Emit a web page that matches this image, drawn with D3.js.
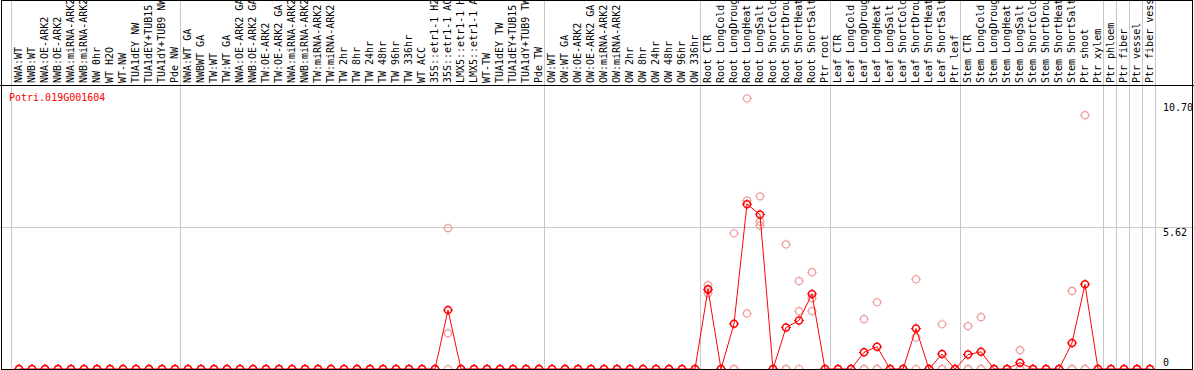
<!DOCTYPE html>
<html>
<head>
<meta charset="utf-8">
<script src="https://cdn.jsdelivr.net/npm/d3@7"></script>
<style>
  body { margin: 0; background: #fff; }
  svg { display: block; }
  text { font-family: "DejaVu Sans Mono", monospace; font-size: 10px; }
</style>
</head>
<body>
<script>
const geneName = "Potri.019G001604";

const samples = [
  "NWA:WT", "NWB:WT", "NWA:OE-ARK2", "NWB:OE-ARK2", "NWA:miRNA-ARK2", "NWB:miRNA-ARK2", "NW 0hr",
  "WT H2O", "WT-NW", "TUA1dEY NW", "TUA1dEY+TUB15 NW", "TUA1dY+TUB9 NW", "Pde NW",
  "NWA:WT GA", "NWBWT GA", "TW:WT", "TW:WT GA", "NWA:OE-ARK2 GA", "NWB:OE-ARK2 GA", "TW:OE-ARK2",
  "TW:OE-ARK2 GA", "NWA:miRNA-ARK2", "NWB:miRNA-ARK2", "TW:miRNA-ARK2", "TW:miRNA-ARK2",
  "TW 2hr", "TW 8hr", "TW 24hr", "TW 48hr", "TW 96hr", "TW 336hr", "WT ACC",
  "35S::etr1-1 H2O", "35S::etr1-1 ACC", "LMX5::etr1-1 H2O", "LMX5::etr1-1 ACC", "WT-TW",
  "TUA1dEY TW", "TUA1dEY+TUB15 TW", "TUA1dY+TUB9 TW", "Pde TW",
  "OW:WT", "OW:WT GA", "OW:OE-ARK2", "OW:OE-ARK2 GA", "OW:miRNA-ARK2", "OW:miRNA-ARK2",
  "OW 2hr", "OW 8hr", "OW 24hr", "OW 48hr", "OW 96hr", "OW 336hr",
  "Root CTR", "Root LongCold", "Root LongDrought", "Root LongHeat", "Root LongSalt",
  "Root ShortCold", "Root ShortDrought", "Root ShortHeat", "Root ShortSalt", "Ptr root",
  "Leaf CTR", "Leaf LongCold", "Leaf LongDrought", "Leaf LongHeat", "Leaf LongSalt",
  "Leaf ShortCold", "Leaf ShortDrought", "Leaf ShortHeat", "Leaf ShortSalt", "Ptr leaf",
  "Stem CTR", "Stem LongCold", "Stem LongDrought", "Stem LongHeat", "Stem LongSalt",
  "Stem ShortCold", "Stem ShortDrought", "Stem ShortHeat", "Stem ShortSalt", "Ptr shoot", "Ptr xylem",
  "Ptr phloem", "Ptr fiber", "Ptr vessel", "Ptr fiber vessel"
];

const groupSizes = [13, 28, 12, 10, 10, 11, 1, 1, 1, 1];

// mean expression (red line)
const meanValues = [
  0, 0, 0, 0, 0, 0, 0, 0, 0, 0, 0, 0, 0,
  0, 0, 0, 0, 0, 0, 0, 0, 0, 0, 0, 0, 0, 0, 0, 0, 0, 0, 0, 0, 2.33, 0, 0, 0, 0, 0, 0, 0,
  0, 0, 0, 0, 0, 0, 0, 0, 0, 0, 0, 0,
  3.15, 0, 1.79, 6.52, 6.11, 0, 1.64, 1.92, 2.97, 0,
  0, 0, 0.66, 0.88, 0, 0, 1.60, 0, 0.59, 0,
  0.57, 0.68, 0, 0, 0.25, 0, 0, 0, 1.03, 3.35, 0,
  0, 0, 0, 0
];

// replicates (pale circles)
const rep1 = [
  0, 0, 0, 0, 0, 0, 0, 0, 0, 0, 0, 0, 0,
  0, 0, 0, 0, 0, 0, 0, 0, 0, 0, 0, 0, 0, 0, 0, 0, 0, 0, 0, 0, 5.57, 0, 0, 0, 0, 0, 0, 0,
  0, 0, 0, 0, 0, 0, 0, 0, 0, 0, 0, 0,
  3.32, 0, 5.37, 10.70, 6.83, 0, 4.93, 3.48, 3.83, 0,
  0, 0, 1.97, 2.64, 0, 0, 3.55, 0, 1.77, 0,
  1.70, 2.05, 0, 0, 0.75, 0, 0, 0, 3.09, 10.04, 0,
  0, 0, 0, 0
];
const rep2 = [
  0, 0, 0, 0, 0, 0, 0, 0, 0, 0, 0, 0, 0,
  0, 0, 0, 0, 0, 0, 0, 0, 0, 0, 0, 0, 0, 0, 0, 0, 0, 0, 0, 0, 1.41, 0, 0, 0, 0, 0, 0, 0,
  0, 0, 0, 0, 0, 0, 0, 0, 0, 0, 0, 0,
  3.13, 0, 0, 6.66, 5.83, 0, 0, 2.29, 2.80, 0,
  0, 0, 0, 0, 0, 0, 1.25, 0, 0, 0,
  0, 0, 0, 0, 0, 0, 0, 0, 0, 0, 0,
  0, 0, 0, 0
];
const rep3 = [
  0, 0, 0, 0, 0, 0, 0, 0, 0, 0, 0, 0, 0,
  0, 0, 0, 0, 0, 0, 0, 0, 0, 0, 0, 0, 0, 0, 0, 0, 0, 0, 0, 0, 0, 0, 0, 0, 0, 0, 0, 0,
  0, 0, 0, 0, 0, 0, 0, 0, 0, 0, 0, 0,
  2.99, 0, 0, 2.20, 5.67, 0, 0, 0, 2.29, 0,
  0, 0, 0, 0, 0, 0, 0, 0, 0, 0,
  0, 0, 0, 0, 0, 0, 0, 0, 0, 0, 0,
  0, 0, 0, 0
];

const width = 1194;
const height = 370;
const labelBottom = 85;
const plotBottom = 369;
const plotLeft = 11;
const step = 13;
const red = "#ff0000";
const pale = "#f0a0a0";
const grey = "#c8c8c8";

const idx = d3.range(samples.length);

const xScale = d3.scaleBand()
  .domain(idx)
  .range([plotLeft, plotLeft + step * samples.length]);
const cx = i => xScale(i) + 8;

const yMax = d3.max([...rep1, ...rep2, ...rep3, ...meanValues]);
const yScale = d3.scaleLinear()
  .domain([0, yMax * 1.05])
  .range([plotBottom, labelBottom]);

const svg = d3.select("body").append("svg")
  .attr("width", width)
  .attr("height", height);

svg.append("clipPath")
    .attr("id", "labelClip")
  .append("rect")
    .attr("x", 0).attr("y", 1)
    .attr("width", width).attr("height", labelBottom - 1);

// group separators
const bounds = [0, ...d3.cumsum(groupSizes)];
const sepX = b => (b < samples.length ? xScale(b) : xScale(samples.length - 1) + step) + 0.5;
svg.append("g")
    .attr("stroke", grey)
  .selectAll("line")
  .data(bounds)
  .join("line")
    .attr("x1", sepX)
    .attr("x2", sepX)
    .attr("y1", 0)
    .attr("y2", height);

// middle grid line
const yMid = yScale.domain()[1] / 2;
const yMidPx = Math.round(yScale(yMid)) + 0.5;
svg.append("line")
  .attr("x1", 0).attr("x2", width)
  .attr("y1", yMidPx).attr("y2", yMidPx)
  .attr("stroke", grey);

// sample labels
svg.append("g")
    .attr("clip-path", "url(#labelClip)")
  .selectAll("text")
  .data(idx)
  .join("text")
    .attr("transform", i => `translate(${cx(i) + 3},83) rotate(-90)`)
    .attr("fill", "#000")
    .text(i => samples[i]);

// title
svg.append("text")
  .attr("x", 9)
  .attr("y", 101)
  .attr("fill", red)
  .text(geneName);

// y labels
const yTicks = [
  { v: yMax, dy: 12 },
  { v: yMid, dy: 9 },
  { v: 0, dy: -3 }
];
svg.append("g")
  .selectAll("text")
  .data(yTicks)
  .join("text")
    .attr("x", 1163)
    .attr("y", d => yScale(d.v) + d.dy)
    .attr("fill", "#000")
    .text(d => d.v === 0 ? "0" : d.v.toFixed(2));

function marker(g, color, sw) {
  g.append("circle")
    .attr("r", 3.5)
    .attr("fill", "none")
    .attr("stroke", color)
    .attr("stroke-width", sw);
  g.append("path")
    .attr("d", "M0,-4V-5M0,4V5M-4,0H-5M4,0H5")
    .attr("stroke", color)
    .attr("stroke-width", 1);
}

// replicate points
[rep1, rep2, rep3].forEach(rep => {
  svg.append("g")
    .selectAll("g")
    .data(idx)
    .join("g")
      .attr("transform", i => `translate(${cx(i)},${yScale(rep[i])})`)
      .call(marker, pale, 1.2);
});

// mean line
const line = d3.line()
  .x(i => cx(i))
  .y(i => yScale(meanValues[i]));

svg.append("path")
  .datum(idx)
  .attr("fill", "none")
  .attr("stroke", red)
  .attr("stroke-width", 1)
  .attr("d", line);

svg.append("g")
  .selectAll("g")
  .data(idx)
  .join("g")
    .attr("transform", i => `translate(${cx(i)},${yScale(meanValues[i])})`)
    .call(marker, red, 1.5);

// frame
const frame = svg.append("g").attr("stroke", "#000").attr("fill", "none");
frame.append("rect")
  .attr("x", 1.5).attr("y", 0.5)
  .attr("width", width - 3)
  .attr("height", plotBottom);
frame.append("line")
  .attr("x1", 0).attr("x2", width)
  .attr("y1", labelBottom + 0.5).attr("y2", labelBottom + 0.5);
</script>
</body>
</html>
